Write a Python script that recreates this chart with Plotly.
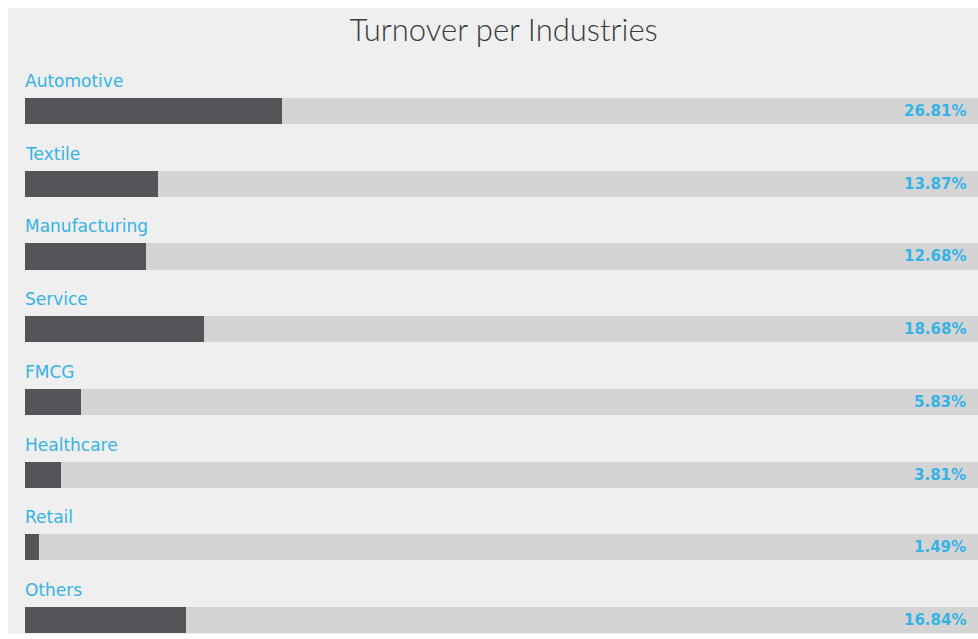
import plotly.graph_objects as go

categories = ["Automotive", "Textile", "Manufacturing", "Service", "FMCG", "Healthcare", "Retail", "Others"]
values = [26.81, 13.87, 12.68, 18.68, 5.83, 3.81, 1.49, 16.84]
track_max = [100] * len(categories)
value_labels = [f"{v:.2f}%" for v in values]

BLUE = "#35b3e6"
fig = go.Figure()
fig.add_trace(go.Bar(y=categories, x=track_max, orientation="h", marker=dict(color="#d4d4d4", line=dict(width=0)),
                     width=0.36, hoverinfo="skip", showlegend=False))
fig.add_trace(go.Bar(y=categories, x=values, orientation="h", marker=dict(color="#545459", line=dict(width=0)),
                     width=0.36, showlegend=False))

for c, lab in zip(categories, value_labels):
    fig.add_annotation(x=0, y=c, xref="x", yref="y", text=c, showarrow=False, xanchor="left", yanchor="middle",
                       yshift=30, xshift=-2, font=dict(family="DejaVu Sans", size=17, color=BLUE))
    fig.add_annotation(x=1, y=c, xref="paper", yref="y", text=f"<b>{lab}</b>", showarrow=False, xanchor="right",
                       yanchor="middle", xshift=-10, font=dict(family="DejaVu Sans", size=15, color=BLUE))

fig.add_shape(type="rect", xref="paper", yref="paper", x0=-0.01784, x1=1.01, y0=0.00887, y1=1.1188,
              fillcolor="#efefef", line=dict(width=0), layer="below")

fig.update_layout(
    width=978, height=639,
    margin=dict(l=25, r=0, t=75, b=0),
    paper_bgcolor="white", plot_bgcolor="rgba(0,0,0,0)",
    barmode="overlay", bargap=0,
    title=dict(text="Turnover per Industries", x=0.515, xref="container", xanchor="center",
               y=1 - 30 / 639, yref="container", yanchor="middle",
               font=dict(family="Lato", size=31, color="#3a3a3a", weight=300)),
    xaxis=dict(range=[0, 99.58], visible=False, fixedrange=True),
    yaxis=dict(range=[7.261, -0.495], visible=False, categoryorder="array", categoryarray=categories, fixedrange=True),
)
fig.write_html("out.html")
